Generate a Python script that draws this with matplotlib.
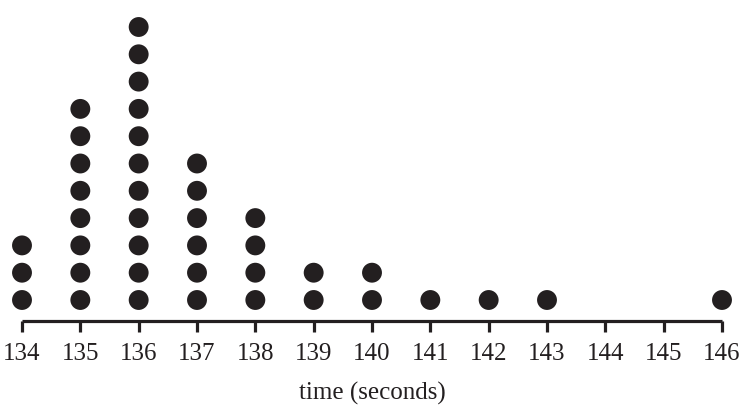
import matplotlib.pyplot as plt
import numpy as np

# ── data: time (seconds) and how many dots sit above each value ──
times = [134, 135, 136, 137, 138, 139, 140, 141, 142, 143, 144, 145, 146]
counts = [3, 8, 11, 6, 4, 2, 2, 1, 1, 1, 0, 0, 1]
tick_labels = [str(t) for t in times]
x_label = 'time (seconds)'

plt.rcParams['font.family'] = ['Liberation Serif', 'DejaVu Serif']

# expand counts into stacked dot positions
dot_x = []
dot_y = []
for t, c in zip(times, counts):
    for k in range(c):
        dot_x.append(t)
        dot_y.append(k + 1)

W, H = 745, 408
fig = plt.figure(figsize=(W / 100, H / 100), dpi=100)
# axis line at y=321px from top, x=134 at 22px, x=146 at 722px
ax = fig.add_axes([22 / W, (H - 321) / H, 700 / W, 321 / H])

ink = '#231f20'
ax.scatter(dot_x, dot_y, s=205, color=ink, edgecolors='none', clip_on=False, zorder=3)

ax.set_xlim(times[0], times[-1])
ax.set_ylim(1 - 21 / 27.3, 1 - 21 / 27.3 + 321 / 27.3)

for side in ['top', 'right', 'left']:
    ax.spines[side].set_visible(False)
ax.spines['bottom'].set_linewidth(2.3)
ax.spines['bottom'].set_color(ink)
ax.spines['bottom'].set_capstyle('butt')

ax.set_yticks([])
ax.set_xticks(times)
ax.set_xticklabels(tick_labels)
ax.tick_params(axis='x', direction='out', length=8, width=2.3, color=ink,
               pad=8, labelsize=18, labelcolor=ink)
ax.set_xlabel(x_label, fontsize=18, color=ink, labelpad=12)

fig.savefig('out.png', dpi=100)
